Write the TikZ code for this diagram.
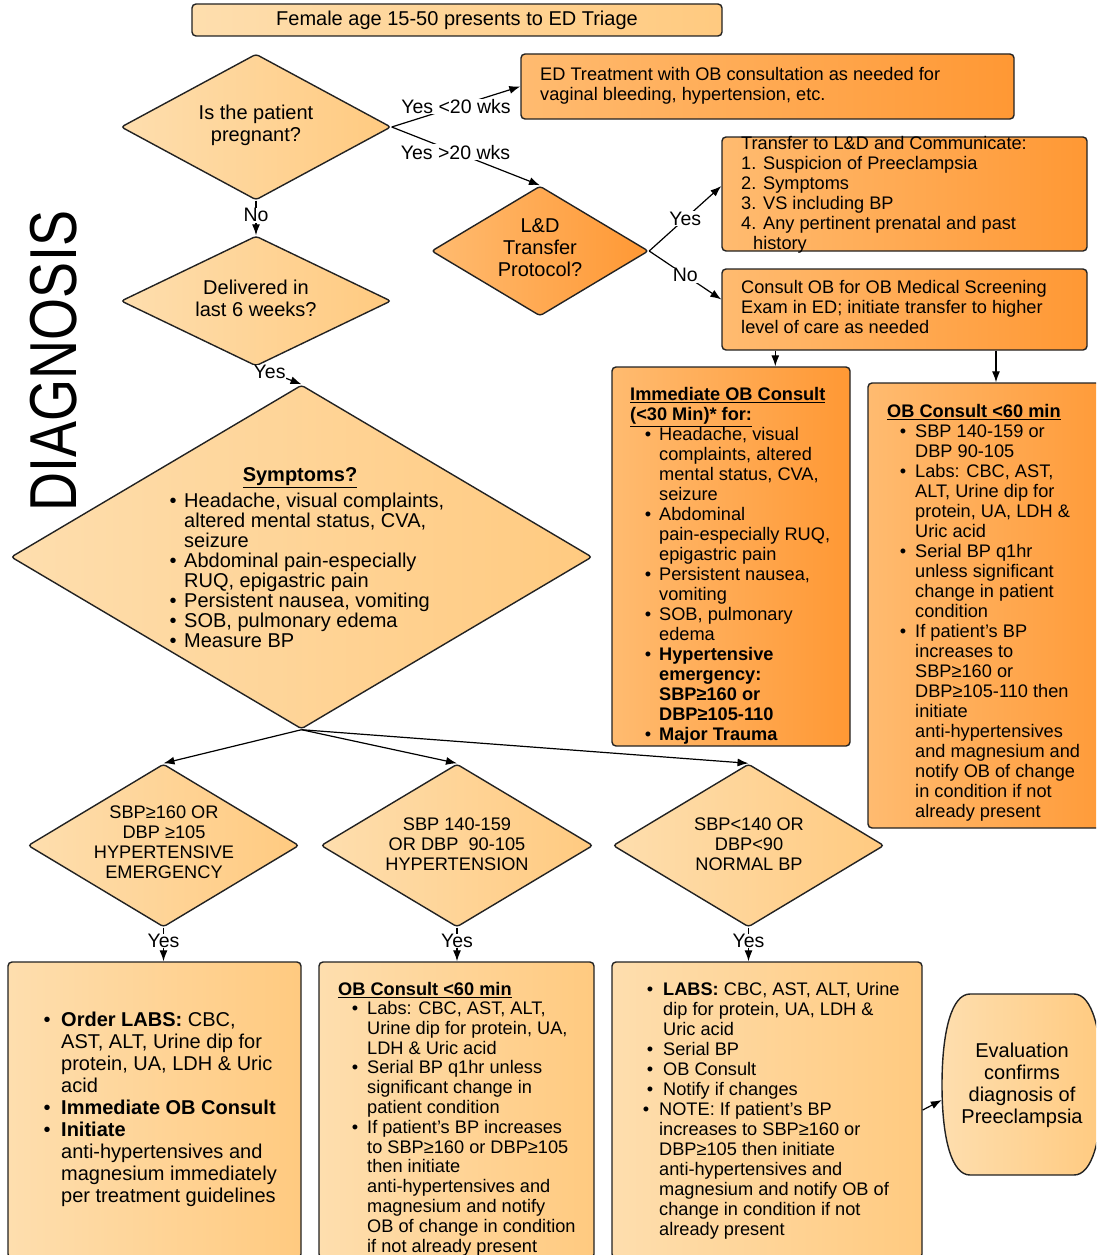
\documentclass[tikz,border=0pt]{standalone}
\usepackage{fontspec}
\setmainfont{Liberation Sans}
\usepackage{tikz}
\usetikzlibrary{positioning,calc,arrows.meta,shapes.geometric}

\definecolor{palelo}{RGB}{254,222,174}
\definecolor{palehi}{RGB}{255,202,128}
\definecolor{darklo}{RGB}{255,187,112}
\definecolor{darkhi}{RGB}{255,152,52}
\definecolor{edge}{RGB}{34,34,34}

\newcommand{\fsmall}{\fontsize{18.2}{20}\selectfont}
\newcommand{\fbig}{\fontsize{20}{22}\selectfont}
\newcommand{\fsym}{\fontsize{20}{20}\selectfont}
\newcommand{\bul}[1][8pt]{\llap{\textbullet\hspace{#1}}}

\begin{document}
\begin{tikzpicture}[x=1pt,y=-1pt,
  pale/.style={left color=palelo,right color=palehi,draw=edge,line width=1.4pt},
  deep/.style={left color=darklo,right color=darkhi,draw=edge,line width=1.4pt},
  dia/.style={diamond,inner sep=0pt,rounded corners=3pt},
  box/.style={rectangle,inner sep=0pt,rounded corners=4pt},
  txt/.style={inner sep=0pt,align=left,anchor=north west},
  ctr/.style={inner sep=0pt,align=center},
  lbl/.style={fill=white,inner sep=0.5pt,font=\fontsize{19.5}{20}\selectfont},
  arr/.style={-{Latex[length=11pt,width=8pt]},line width=1.2pt}]

  \useasboundingbox (0,0) rectangle (1096,1255);
  \clip (0,0) rectangle (1096,1255);

  % title and side label
  \node[box,pale,minimum width=530pt,minimum height=32pt,font=\fbig] (triage) at (457,20) {Female age 15-50 presents to ED Triage};
  \node[rotate=90,inner sep=0pt,font=\fontsize{54}{54}\selectfont] (diag) at (54,361) {\scalebox{1}[1.23]{DIAGNOSIS}};

  % first questions
  \node[dia,pale,minimum width=270pt,minimum height=146pt] (d-preg) at (256,127) {};
  \node[ctr,font=\fbig] (t-preg) at (256,125) {Is the patient\\pregnant?};
  \node[dia,pale,minimum width=270pt,minimum height=130pt] (d-deliv) at (256,301) {};
  \node[ctr,font=\fbig] (t-deliv) at (256,298) {Delivered in\\last 6 weeks?};
  \node[dia,deep,minimum width=217pt,minimum height=130pt] (ld) at (540,251) {};
  \node[ctr,font=\fbig] (t-ld) at (540,248) {L\&D\\Transfer\\Protocol?};

  % pregnant branch
  \node[box,deep,minimum width=493pt,minimum height=65pt] (ed) at (767.5,86.5) {};
  \node[txt,font=\fsmall] (t-ed) at (540,67.5) {ED Treatment with OB consultation as needed for\\vaginal bleeding, hypertension, etc.};
  \node[box,deep,minimum width=365pt,minimum height=114pt] (tr) at (904.5,194) {};
  \node[txt,font=\fsmall] (t-tr) at (741,136.5) {Transfer to L\&D and Communicate:\\1. Suspicion of Preeclampsia\\2. Symptoms\\3. VS including BP\\4. Any pertinent prenatal and past\\\hspace*{12pt}history};
  \node[box,deep,minimum width=365pt,minimum height=81pt] (cs) at (904.5,309.5) {};
  \node[txt,font=\fsmall] (t-cs) at (741,280.5) {Consult OB for OB Medical Screening\\Exam in ED; initiate transfer to higher\\level of care as needed};

  \node[box,deep,minimum width=238pt,minimum height=379pt] (im) at (731,556.5) {};
  \node[txt,font=\fsmall] (im-title) at (630,387.5) {\underline{\textbf{Immediate OB Consult}}\\\underline{\textbf{(<30 Min)* for:}}};
  \node[txt,font=\fsmall] (im-list) at (659,427.5) {\bul Headache, visual\\complaints, altered\\mental status, CVA,\\seizure\\\bul Abdominal\\pain-especially RUQ,\\epigastric pain\\\bul Persistent nausea,\\vomiting\\\bul SOB, pulmonary\\edema\\\bul\textbf{Hypertensive}\\\textbf{emergency:}\\\textbf{SBP≥160 or}\\\textbf{DBP≥105-110}\\\bul\textbf{Major Trauma}};

  \node[box,deep,minimum width=256pt,minimum height=445pt] (rb) at (996,605.5) {};
  \node[txt,font=\fsmall] (rb-title) at (887,404.5) {\underline{\textbf{OB Consult <60 min}}};
  \node[txt,font=\fsmall] (rb-list) at (915,424.5) {\bul[9pt]SBP 140-159 or\\DBP 90-105\\\bul[9pt]Labs: CBC, AST,\\ALT, Urine dip for\\protein, UA, LDH \&\\Uric acid\\\bul[9pt]Serial BP q1hr\\unless significant\\change in patient\\condition\\\bul[9pt]If patient's BP\\increases to\\SBP≥160 or\\DBP≥105-110 then\\initiate\\anti-hypertensives\\and magnesium and\\notify OB of change\\in condition if not\\already present};

  % symptoms
  \node[dia,pale,minimum width=581pt,minimum height=344pt] (sym) at (301.5,557) {};
  \node[ctr,font=\fsym] (sym-title) at (300,478) {\underline{\textbf{Symptoms?}}};
  \node[txt,font=\fsym] (sym-list) at (184,492.8) {\bul[7.5pt]Headache, visual complaints,\\altered mental status, CVA,\\seizure\\\bul[7.5pt]Abdominal pain-especially\\RUQ, epigastric pain\\\bul[7.5pt]Persistent nausea, vomiting\\\bul[7.5pt]SOB, pulmonary edema\\\bul[7.5pt]Measure BP};

  % blood pressure classes
  \node[dia,pale,minimum width=271pt,minimum height=163pt] (dA) at (163.5,845.5) {};
  \node[ctr,font=\fsmall] (t-dA) at (164,842) {SBP≥160 OR\\DBP ≥105\\HYPERTENSIVE\\EMERGENCY};
  \node[dia,pale,minimum width=272pt,minimum height=163pt] (dB) at (457,845.5) {};
  \node[ctr,font=\fsmall] (t-dB) at (457,844) {SBP 140-159\\OR DBP\ \ 90-105\\HYPERTENSION};
  \node[dia,pale,minimum width=271pt,minimum height=163pt] (dC) at (748.5,845.5) {};
  \node[ctr,font=\fsmall] (t-dC) at (749,844) {SBP<140 OR\\DBP<90\\NORMAL BP};

  % actions
  \node[box,pale,minimum width=293pt,minimum height=296pt] (bA) at (154.5,1110) {};
  \node[txt,font=\fbig] (bA-list) at (61,1011.7) {\bul[10.5pt]\textbf{Order LABS:} CBC,\\AST, ALT, Urine dip for\\protein, UA, LDH \& Uric\\acid\\\bul[10.5pt]\textbf{Immediate OB Consult}\\\bul[10.5pt]\textbf{Initiate}\\anti-hypertensives and\\magnesium immediately\\per treatment guidelines};

  \node[box,pale,minimum width=275pt,minimum height=296pt] (bB) at (456.5,1110) {};
  \node[txt,font=\fsmall] (bB-title) at (338,982.5) {\underline{\textbf{OB Consult <60 min}}};
  \node[txt,font=\fontsize{18.2}{19.8}\selectfont] (bB-list) at (367,1001) {\bul[9pt]Labs: CBC, AST, ALT,\\Urine dip for protein, UA,\\LDH \& Uric acid\\\bul[9pt]Serial BP q1hr unless\\significant change in\\patient condition\\\bul[9pt]If patient's BP increases\\to SBP≥160 or DBP≥105\\then initiate\\anti-hypertensives and\\magnesium and notify\\OB of change in condition\\if not already present};

  \node[box,pale,minimum width=310pt,minimum height=296pt] (bC) at (767,1110) {};
  \node[txt,font=\fsmall] (bC-list) at (659,982.5) {\hspace*{4pt}\bul[10pt]\textbf{LABS:} CBC, AST, ALT, Urine\\\hspace*{4pt}dip for protein, UA, LDH \&\\\hspace*{4pt}Uric acid\\\hspace*{4pt}\bul[10pt]Serial BP\\\hspace*{4pt}\bul[10pt]OB Consult\\\hspace*{4pt}\bul[10pt]Notify if changes\\\bul[10pt]NOTE: If patient's BP\\increases to SBP≥160 or\\DBP≥105 then initiate\\anti-hypertensives and\\magnesium and notify OB of\\change in condition if not\\already present};

  % terminal with bulging sides
  \coordinate (ev-c) at (1022,1085);
  \draw[pale] ($(ev-c)+(-52,-91)$) -- ($(ev-c)+(52,-91)$)
    .. controls ($(ev-c)+(70,-91)$) and ($(ev-c)+(80,-55)$) .. ($(ev-c)+(80,0)$)
    .. controls ($(ev-c)+(80,55)$) and ($(ev-c)+(70,90)$) .. ($(ev-c)+(52,90)$)
    -- ($(ev-c)+(-52,90)$)
    .. controls ($(ev-c)+(-70,90)$) and ($(ev-c)+(-80,55)$) .. ($(ev-c)+(-80,0)$)
    .. controls ($(ev-c)+(-80,-55)$) and ($(ev-c)+(-70,-91)$) .. ($(ev-c)+(-52,-91)$) -- cycle;
  \node[ctr,minimum width=160pt,minimum height=181pt,font=\fbig] (ev) at (ev-c) {Evaluation\\confirms\\diagnosis of\\Preeclampsia};

  % connectors
  \draw[arr] (d-preg.east) -- node[lbl]{Yes <20 wks} (ed.west);
  \draw[arr] (d-preg.east) -- node[lbl,pos=.43]{Yes >20 wks} (ld.north);
  \draw[arr] (d-preg.south) -- node[lbl,pos=.42]{No} (d-deliv.north);
  \draw[arr] (d-deliv.south) -- node[lbl,pos=.3]{Yes} (sym.north);
  \draw[arr] (ld.east) -- node[lbl]{Yes} ($(tr.west)+(0,-8)$);
  \draw[arr] (ld.east) -- node[lbl]{No} ($(cs.west)+(0,-10)$);
  \coordinate (cs-l) at ($(cs.south west)+(54,0)$);
  \draw[arr] (cs-l) -- (cs-l |- im.north);
  \draw[arr] (cs.south -| rb.north) -- (rb.north);
  \draw[arr] (sym.south) -- (dA.north);
  \draw[arr] (sym.south) -- (dB.north);
  \draw[arr] (sym.south) -- (dC.north);
  \draw[arr] (dA.south) -- node[lbl,pos=.4]{Yes} (dA.south |- bA.north);
  \draw[arr] (dB.south) -- node[lbl,pos=.4]{Yes} (dB.south |- bB.north);
  \draw[arr] (dC.south) -- node[lbl,pos=.4]{Yes} (dC.south |- bC.north);
  \draw[arr] (bC.east) -- ($(ev.west)+(0,15)$);
\end{tikzpicture}
\end{document}
